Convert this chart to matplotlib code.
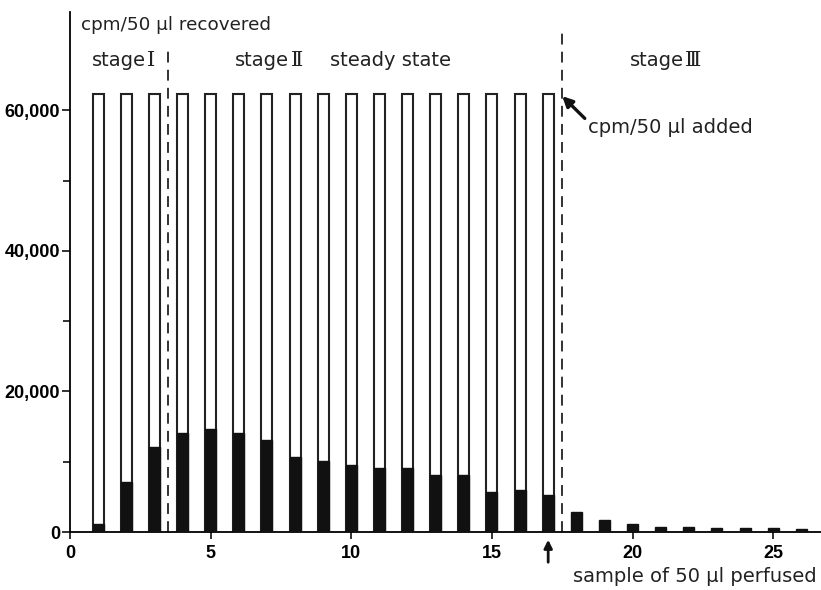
import matplotlib
matplotlib.use("Agg")
import matplotlib.pyplot as plt

plt.rcParams["font.family"] = ["Liberation Sans", "DejaVu Sans"]

# samples and counts (cpm / 50 ul)
samples_added = list(range(1, 18))
added = [62300] * 17
samples = list(range(1, 27))
recovered = [1100, 7100, 12100, 14100, 14600, 14100, 13100, 10600, 10100, 9500,
             9100, 9100, 8100, 8100, 5700, 6000, 5300, 2850, 1700, 1100, 650,
             650, 600, 600, 500, 450]
stage_bounds = [3.5, 17.5]
stage_x = [0.78, 5.87, 19.9]
stage_num = ["Ⅰ", "Ⅱ", "Ⅲ"]

fig = plt.figure(figsize=(8.21, 5.90), dpi=100)
ax = fig.add_axes([0.0853, 0.0983, 0.9147, 0.8817])

w = 0.39
ax.bar(samples_added, added, width=w, color="white", edgecolor="#222222", linewidth=1.5, zorder=2)
ax.bar(samples, recovered, width=w, color="#111111", edgecolor="#111111", linewidth=1.0, zorder=3)

# stage boundaries
ax.plot([stage_bounds[0]] * 2, [0, 69000], color="#222222", lw=1.3, ls=(0, (6, 4)), zorder=1)
ax.plot([stage_bounds[1]] * 2, [0, 71100], color="#222222", lw=1.3, ls=(0, (6, 4)), zorder=1)

ax.set_xlim(0, 26.7)
ax.set_ylim(0, 74000)
for s in ["top", "right"]:
    ax.spines[s].set_visible(False)
ax.spines["left"].set_linewidth(1.3)
ax.spines["bottom"].set_linewidth(1.3)

ax.set_yticks([0, 20000, 40000, 60000])
ax.set_yticklabels(["0", "20,000", "40,000", "60,000"], fontweight="bold", fontsize=13)
ax.set_yticks([10000, 30000, 50000], minor=True)
ax.set_xticks([0, 5, 10, 15, 20, 25])
ax.set_xticklabels(["0", "5", "10", "15", "20", "25"], fontweight="bold", fontsize=13)
ax.tick_params(axis="both", which="both", direction="out", width=1.3, color="#222222")
ax.tick_params(axis="y", which="major", length=6, pad=1)
ax.tick_params(axis="y", which="minor", length=5)
ax.tick_params(axis="x", which="major", length=5, pad=4)

lab = ["DejaVu Sans"]
txt = dict(fontsize=14, color="#222222", va="center", family=lab)
ax.text(0.4, 72100, "cpm/50 μl recovered", **dict(txt, fontsize=13.2))
for x, num in zip(stage_x, stage_num):
    t = ax.text(x, 67100, "stage", **txt)
    ax.annotate(num, xy=(1, 0.5), xycoords=t, xytext=(1, 0), textcoords="offset points",
                fontsize=15, color="#222222", va="center", ha="left",
                family=["DejaVu Serif"])
ax.text(9.25, 67100, "steady state", **txt)
ax.annotate("cpm/50 μl added", xy=(17.5, 62000), xytext=(18.4, 57500),
            fontsize=14, color="#222222", va="center", family=lab,
            arrowprops=dict(arrowstyle="-|>", color="#111111", lw=2.4,
                            shrinkA=0, shrinkB=0, mutation_scale=15,
                            relpos=(0, 0.85)))
ax.annotate("", xy=(17, -1100), xytext=(17, -4300), annotation_clip=False,
            arrowprops=dict(arrowstyle="-|>", color="#111111", lw=2.0,
                            shrinkA=0, shrinkB=0, mutation_scale=12))
ax.text(17.9, -6400, "sample of 50 μl perfused", fontsize=14, color="#222222",
        va="center", clip_on=False, family=lab)

fig.savefig("out.png", dpi=100)
